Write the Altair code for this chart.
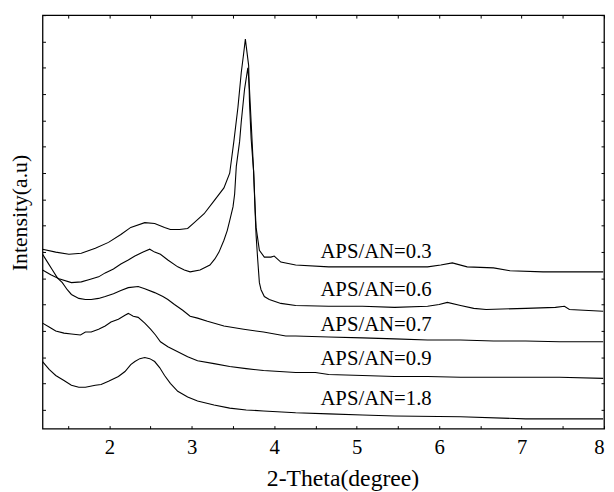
import altair as alt
import pandas as pd

series_names = ["APS/AN=0.3", "APS/AN=0.6", "APS/AN=0.7", "APS/AN=0.9", "APS/AN=1.8"]

x_03 = [1.19, 1.35, 1.51, 1.66, 1.83, 1.99, 2.14, 2.26, 2.43, 2.55, 2.67, 2.74, 2.85, 2.95, 3.03,
        3.15, 3.27, 3.39, 3.46, 3.51, 3.56, 3.60, 3.63, 3.65, 3.66, 3.69, 3.70, 3.72, 3.75, 3.77,
        3.78, 3.82, 3.88, 3.96, 4.00, 4.08, 4.26, 4.66, 5.07, 5.46, 5.86, 6.02, 6.16, 6.34, 6.66,
        6.86, 7.26, 7.65, 7.99]
i_03 = [7.10, 6.99, 6.91, 6.95, 7.14, 7.36, 7.66, 7.93, 8.11, 8.08, 7.93, 7.85, 7.85, 7.89, 8.11,
        8.45, 8.94, 9.43, 9.99, 11.19, 12.50, 13.81, 14.56, 15.09, 14.83, 14.08, 12.69, 11.30, 10.06, 8.56,
        7.93, 7.06, 6.80, 6.80, 6.84, 6.61, 6.50, 6.43, 6.43, 6.43, 6.43, 6.50, 6.58, 6.43, 6.39,
        6.28, 6.24, 6.24, 6.24]

x_06 = [1.19, 1.29, 1.39, 1.54, 1.66, 1.75, 1.87, 1.95, 2.05, 2.14, 2.23, 2.31, 2.41, 2.49, 2.55,
        2.62, 2.71, 2.83, 2.91, 2.98, 3.10, 3.22, 3.28, 3.33, 3.39, 3.43, 3.46, 3.50, 3.52, 3.54,
        3.58, 3.60, 3.64, 3.68, 3.70, 3.72, 3.75, 3.77, 3.78, 3.80, 3.82, 3.84, 3.88, 3.94, 4.08,
        4.26, 4.66, 5.07, 5.46, 5.86, 6.00, 6.10, 6.26, 6.42, 6.57, 7.05, 7.41, 7.52, 7.58, 7.99]
i_06 = [6.31, 6.13, 5.98, 5.83, 5.86, 5.94, 6.05, 6.20, 6.35, 6.54, 6.69, 6.84, 6.99, 7.10, 6.99,
        6.91, 6.69, 6.43, 6.31, 6.24, 6.31, 6.50, 6.73, 6.99, 7.44, 7.81, 8.19, 8.71, 9.20, 10.25,
        11.19, 11.94, 13.18, 14.00, 13.18, 11.94, 10.06, 8.38, 7.63, 6.69, 5.83, 5.56, 5.30, 5.19, 5.04,
        4.96, 4.93, 4.93, 4.89, 4.93, 5.00, 5.08, 4.96, 4.85, 4.81, 4.85, 4.89, 4.93, 4.81, 4.74]

x_07 = [1.19, 1.25, 1.31, 1.37, 1.43, 1.49, 1.54, 1.63, 1.71, 1.78, 1.87, 1.95, 2.05, 2.14, 2.23,
        2.35, 2.43, 2.55, 2.65, 2.71, 2.79, 2.89, 2.98, 3.07, 3.19, 3.39, 3.63, 3.87, 4.14, 4.26,
        4.66, 5.07, 5.46, 5.86, 6.26, 6.66, 7.05, 7.46, 7.99]
i_07 = [6.91, 6.61, 6.31, 6.01, 5.83, 5.56, 5.38, 5.23, 5.19, 5.19, 5.23, 5.30, 5.41, 5.53, 5.64,
        5.68, 5.60, 5.45, 5.30, 5.19, 5.00, 4.78, 4.55, 4.48, 4.36, 4.18, 4.06, 3.95, 3.80, 3.80,
        3.76, 3.73, 3.69, 3.65, 3.65, 3.61, 3.61, 3.58, 3.58]

x_09 = [1.19, 1.27, 1.35, 1.45, 1.54, 1.65, 1.71, 1.78, 1.87, 1.95, 2.02, 2.11, 2.19, 2.23, 2.29,
        2.35, 2.43, 2.50, 2.56, 2.62, 2.71, 2.83, 2.95, 3.07, 3.27, 3.46, 3.66, 3.87, 4.26, 4.50,
        4.66, 5.07, 5.46, 5.86, 6.26, 6.66, 7.05, 7.46, 7.99]
i_09 = [4.29, 4.14, 3.99, 3.91, 3.88, 3.84, 3.95, 3.95, 4.06, 4.18, 4.33, 4.44, 4.59, 4.66, 4.55,
        4.51, 4.29, 4.06, 3.84, 3.58, 3.39, 3.20, 3.01, 2.86, 2.75, 2.64, 2.56, 2.49, 2.41, 2.41,
        2.34, 2.30, 2.26, 2.26, 2.23, 2.23, 2.23, 2.23, 2.19]

x_18 = [1.19, 1.27, 1.35, 1.45, 1.54, 1.63, 1.71, 1.83, 1.90, 1.99, 2.11, 2.19, 2.26, 2.31, 2.37,
        2.43, 2.49, 2.55, 2.61, 2.67, 2.74, 2.83, 2.95, 3.07, 3.27, 3.46, 3.66, 3.87, 4.26, 4.66,
        5.07, 5.46, 6.26, 7.05, 7.99]
i_18 = [2.83, 2.53, 2.30, 2.11, 1.93, 1.85, 1.85, 1.93, 1.96, 2.08, 2.26, 2.45, 2.71, 2.83, 2.94,
        2.98, 2.94, 2.83, 2.60, 2.30, 2.00, 1.70, 1.48, 1.33, 1.18, 1.06, 0.99, 0.95, 0.88, 0.84,
        0.80, 0.76, 0.73, 0.65, 0.65]

label_x = [4.56, 4.56, 4.56, 4.56, 4.56]
label_y = [6.75, 5.31, 3.99, 2.69, 1.19]

x_ticks = [1.5, 2, 2.5, 3, 3.5, 4, 4.5, 5, 5.5, 6, 6.5, 7, 7.5, 8]
y_ticks = list(range(1, 17))
x_domain = [1.19, 8.0]
y_domain = [0.28, 16.0]

rows = []
for name, xs, ys in zip(series_names, [x_03, x_06, x_07, x_09, x_18], [i_03, i_06, i_07, i_09, i_18]):
    for k, (xv, yv) in enumerate(zip(xs, ys)):
        rows.append({"series": name, "theta": xv, "intensity": yv, "idx": k})
df = pd.DataFrame(rows)
lab = pd.DataFrame({"label": series_names, "lx": label_x, "ly": label_y})

FONT = "Liberation Serif"
xs_scale = alt.Scale(domain=x_domain, nice=False, zero=False)
ys_scale = alt.Scale(domain=y_domain, nice=False, zero=False)

common = dict(tickColor="black", tickWidth=1, tickSize=3, offset=-3, domain=False, grid=False)

lines = alt.Chart(df).mark_line(color="black", strokeWidth=1.1).encode(
    x=alt.X("theta:Q", scale=xs_scale,
            axis=alt.Axis(orient="bottom", values=x_ticks,
                          labelExpr="datum.value % 1 === 0 ? format(datum.value, 'd') : ''",
                          labelOverlap=False, labelFlush=True, labelPadding=8,
                          labelFont=FONT, labelFontSize=21, labelColor="black",
                          title="2-Theta(degree)", titleFont=FONT, titleFontSize=24,
                          titleFontWeight="normal", titleColor="black",
                          titleBaseline="alphabetic", titleX=304, titleY=61, **common)),
    y=alt.Y("intensity:Q", scale=ys_scale,
            axis=alt.Axis(orient="left", values=y_ticks, labels=False,
                          title="Intensity(a.u)", titleFont=FONT, titleFontSize=22,
                          titleFontWeight="normal", titleColor="black",
                          titleBaseline="alphabetic", titleX=-19, titleY=200, **common)),
    detail="series:N",
    order="idx:Q",
)

frame_axes = alt.Chart(df).mark_line(strokeOpacity=0).encode(
    x=alt.X("theta:Q", scale=xs_scale,
            axis=alt.Axis(orient="top", values=x_ticks, labels=False, title=None, **common)),
    y=alt.Y("intensity:Q", scale=ys_scale,
            axis=alt.Axis(orient="right", values=y_ticks, labels=False, title=None, **common)),
    detail="series:N",
    order="idx:Q",
)

texts = alt.Chart(lab).mark_text(align="left", baseline="alphabetic", font=FONT,
                                  fontSize=21, color="black").encode(
    x=alt.X("lx:Q", scale=xs_scale, axis=None),
    y=alt.Y("ly:Q", scale=ys_scale, axis=None),
    text="label:N",
)

chart = alt.layer(lines, frame_axes, texts).resolve_axis(
    x="independent", y="independent"
).properties(
    width=569, height=419,
    padding={"left": 35, "top": 4, "right": 2, "bottom": 60},
    autosize=alt.AutoSizeParams(type="none"),
    background="white",
).configure_view(stroke="black", strokeWidth=1.3)

chart.save("out.html", embed_options={"renderer": "svg", "actions": False})
